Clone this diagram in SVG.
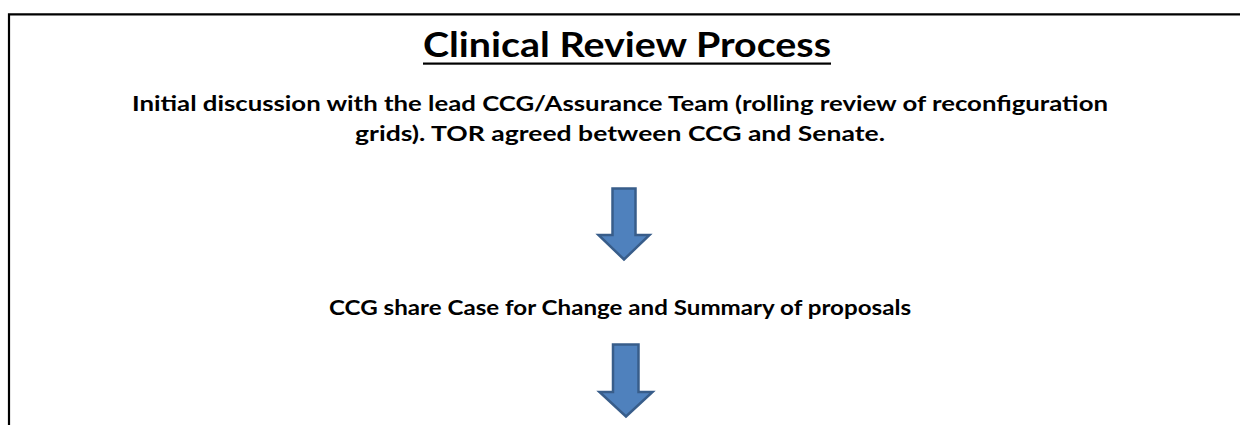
<svg xmlns="http://www.w3.org/2000/svg" width="1240" height="425" viewBox="0 0 1240 425">
<style>
.t{font-family:Lato,"Liberation Sans",Arial,sans-serif;font-weight:bold;fill:#000;text-anchor:middle}
.arrow{fill:#4F81BD;stroke:#385D8A;stroke-width:2.5;stroke-linejoin:miter}
.frame{fill:none;stroke:#000;stroke-width:2.2}
</style>
<rect width="1240" height="425" fill="#fff"/>
<path class="frame" d="M9,426 V14.3 H1241"/>
<g id="title">
<text class="t" x="627" y="57" font-size="35" textLength="408" lengthAdjust="spacingAndGlyphs">Clinical Review Process</text>
<rect x="423" y="62.5" width="408" height="2.2" fill="#000"/>
</g>
<g id="step1">
<text class="t" x="620" y="111" font-size="21" textLength="976" lengthAdjust="spacingAndGlyphs">Initial discussion with the lead CCG/Assurance Team (rolling review of reconfiguration</text>
<text class="t" x="620" y="141" font-size="21" textLength="530" lengthAdjust="spacingAndGlyphs">grids). TOR agreed between CCG and Senate.</text>
</g>
<g id="step2">
<text class="t" x="620" y="315" font-size="21" textLength="582" lengthAdjust="spacingAndGlyphs">CCG share Case for Change and Summary of proposals</text>
</g>
<g id="connectors">
<path class="arrow" d="M612.5,188.5 H635.5 V235 H649.5 L624,259.5 L598.5,235 H612.5 Z"/>
<path class="arrow" d="M613,344.5 H638.5 V392 H652.5 L626,416.5 L599.5,392 H613 Z"/>
</g>
</svg>
